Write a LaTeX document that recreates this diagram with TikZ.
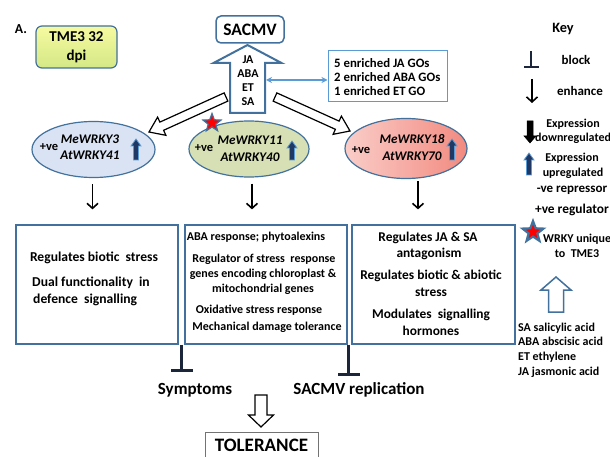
\documentclass[tikz,border=0pt]{standalone}
\usepackage{fontspec}
\setmainfont{Carlito}
\usetikzlibrary{arrows.meta,calc,shapes.geometric}
\definecolor{bord}{RGB}{65,113,156}
\definecolor{lblue}{RGB}{91,155,213}
\definecolor{navy}{RGB}{31,56,100}
\definecolor{blk}{RGB}{28,38,58}
\definecolor{eonefill}{RGB}{218,227,243}
\definecolor{etwofill}{RGB}{214,224,180}
\definecolor{ethreel}{RGB}{250,205,200}
\definecolor{ethreer}{RGB}{242,138,128}
\definecolor{tmetop}{RGB}{246,250,160}
\definecolor{tmebot}{RGB}{212,232,135}
\newcommand{\hollowarr}[6][]{%
  \coordinate (ha-s) at (#2);
  \coordinate (ha-e) at (#3);
  \coordinate (ha-b) at ($(ha-e)!#6!(ha-s)$);
  \draw[line join=miter,#1] ($(ha-s)!#4!90:(ha-e)$) -- ($(ha-b)!#4!90:(ha-e)$) --
    ($(ha-b)!#5!90:(ha-e)$) -- (ha-e) -- ($(ha-b)!#5!-90:(ha-e)$) --
    ($(ha-b)!#4!-90:(ha-e)$) -- ($(ha-s)!#4!-90:(ha-e)$) -- cycle;}
\newcommand{\fs}[1]{\bfseries\fontsize{#1}{#1}\selectfont}
\tikzset{
  gt/.style={font=\fs{13.6}, inner sep=0pt},
  gs/.style={font=\fs{12}, inner sep=0pt},
  gl/.style={font=\fs{13.4}, inner sep=0pt},
  it/.style={font=\bfseries\itshape\fontsize{13.2}{15}\selectfont, inner sep=0pt},
  keyt/.style={font=\fs{12}, inner sep=0pt},
  keyl/.style={font=\fs{13}, inner sep=0pt},
  wrky/.style={ellipse, draw=bord, line width=1.2pt, inner sep=0pt},
  funcbox/.style={draw=bord, line width=1.2pt, minimum height=119pt, inner sep=0pt},
  enh/.style={line width=1.6pt, -{Straight Barb[length=5pt,width=11pt]}},
  blockline/.style={draw=blk, line width=3.5pt, -{Bar[width=22pt]}},
  uparr/.style={fill=navy, draw=lblue, line width=0.8pt},
  redstar/.style={star, star points=5, star point ratio=2.4, fill=red, draw=bord, inner sep=0pt},
}
\begin{document}
\begin{tikzpicture}[x=1pt,y=-1pt]
\useasboundingbox (0,0) rectangle (610,457);
% title items
\node[font=\fs{13.7}, inner sep=0pt] (lab) at (21,29) {A.};
\node[draw=bord, line width=1.2pt, rounded corners=6pt, top color=tmetop, bottom color=tmebot,
  minimum width=81pt, minimum height=42pt, align=center, inner sep=0pt,
  font=\bfseries\fontsize{15}{19}\selectfont] (tme) at (76.5,47) {TME3 32\\dpi};
\node[draw=bord, line width=1.5pt, rounded corners=5pt, fill=white, minimum width=68pt,
  minimum height=27pt, inner sep=0pt, font=\fs{17.5}] (sacmv) at (250,29.5) {SACMV};
% central up arrow
\hollowarr[draw=bord, line width=2pt, fill=white]{247.5,113}{247.5,45}{17.5pt}{34pt}{18pt}
\node[gs] (ja) at (248,60) {JA};
\node[gs] (aba) at (248,74) {ABA};
\node[gs] (et) at (248,88) {ET};
\node[gs] (sa) at (248,102) {SA};
% GO box
\node[draw=lblue, line width=1pt, minimum width=119pt, minimum height=51pt, inner sep=0pt] (go) at (387.5,76.5) {};
\node[anchor=west, align=left, inner sep=0pt, font=\bfseries\fontsize{12.8}{14}\selectfont] (gotxt) at (334,77)
  {5 enriched JA GOs\\2 enriched ABA GOs\\1 enriched ET GO};
\coordinate (dl) at (266,80);
\draw[lblue, line width=1.2pt, {Stealth[length=6pt,width=6pt]}-{Stealth[length=6pt,width=6pt]}] (dl) -- (dl -| go.west);
% diagonal hollow arrows
\hollowarr[draw=black, line width=1.2pt, fill=white]{226,97}{149,132}{4.5pt}{10pt}{14pt}
\hollowarr[draw=black, line width=1.2pt, fill=white]{275,97}{350,131}{4.5pt}{10pt}{14pt}
% ellipses
\node[wrky, fill=eonefill, minimum width=123pt, minimum height=56pt] (e1) at (93.5,149.5) {};
\node[wrky, fill=etwofill, minimum width=120pt, minimum height=56pt] (e2) at (249,149) {};
\node[wrky, left color=ethreel, right color=ethreer, minimum width=122pt, minimum height=60pt] (e3) at (406,148.5) {};
\node[font=\fs{12.5}, inner sep=0pt] (pv1) at (49,147) {+ve};
\node[it] (me1) at (90,139) {MeWRKY3};
\node[it] (at1) at (90,155.5) {AtWRKY41};
\hollowarr[uparr]{136,160}{136,139}{2.5pt}{5pt}{7pt}
\node[font=\fs{12.5}, inner sep=0pt] (pv2) at (204,148) {+ve};
\node[it] (me2) at (250,140) {MeWRKY11};
\node[it] (at2) at (250,157) {AtWRKY40};
\hollowarr[uparr]{292,160}{292,141}{2.5pt}{5pt}{7pt}
\node[redstar, line width=1.2pt, minimum size=19pt] (st1) at (212,123) {};
\node[font=\fs{12.5}, inner sep=0pt] (pv3) at (361,150) {+ve};
\node[it] (me3) at (412,139) {MeWRKY18};
\node[it] (at3) at (412,156) {AtWRKY70};
\hollowarr[uparr]{452,160}{452,139}{2.5pt}{5pt}{7pt}
% function boxes
\node[funcbox, minimum width=162pt] (b1) at (97,284.5) {};
\node[funcbox, minimum width=162pt] (b2) at (266,284.5) {};
\node[funcbox, minimum width=163pt] (b3) at (433.5,284.5) {};
\draw[enh, shorten <=6pt, shorten >=15pt] ([xshift=-1pt]e1.south) -- ([xshift=-1pt]e1.south |- b1.north);
\draw[enh, shorten <=6pt, shorten >=15pt] ([xshift=3pt]e2.south) -- ([xshift=3pt]e2.south |- b2.north);
\draw[enh, shorten <=2pt, shorten >=15pt] ([xshift=12pt]e3.south) -- ([xshift=12pt]e3.south |- b3.north);
% box 1 text
\node[gt] (t11) at (94,258) {Regulates biotic\ \ stress};
\node[gt, anchor=west] (t12) at (32,283) {Dual functionality\ \ in};
\node[gt, anchor=west] (t13) at (33,300) {defence\ \ signalling};
% box 2 text
\node[gs] (t21) at (256,237) {ABA response; phytoalexins};
\node[gs] (t22) at (264,259) {Regulator of stress\ \ response};
\node[gs] (t23) at (263,274) {genes encoding chloroplast \&};
\node[gs] (t24) at (263,289) {mitochondrial genes};
\node[gs] (t25) at (259,310) {Oxidative stress response};
\node[gs] (t26) at (267,327) {Mechanical damage tolerance};
% box 3 text
\node[gl] (t31) at (428,238) {Regulates JA \& SA};
\node[gl] (t32) at (429,254) {antagonism};
\node[gl] (t33) at (431,276) {Regulates biotic \& abiotic};
\node[gl] (t34) at (431,292) {stress};
\node[gl] (t35) at (431,315) {Modulates\ \ signalling};
\node[gl] (t36) at (431,331) {hormones};
% block connectors
\coordinate (k1) at ($(b1.south east)!0.5!(b2.south west)$);
\coordinate (k1e) at (181,372);
\draw[blockline] (k1) -- (k1 |- k1e);
\coordinate (k2) at ($(b2.south east)!0.3!(b3.south west)$);
\coordinate (k2e) at (348,376);
\draw[blockline] (k2) -- (k2 |- k2e);
\node[font=\fs{17}, inner sep=0pt] (symp) at (195,390) {Symptoms};
\node[font=\fs{17}, inner sep=0pt] (repl) at (359,390) {SACMV replication};
\node[draw=black!55, line width=0.8pt, minimum width=113pt, minimum height=40pt, inner sep=0pt] (tol) at (261.5,452) {};
\node[font=\fs{19}, inner sep=0pt, anchor=base] (toltxt) at (261.5,451.5) {TOLERANCE};
\hollowarr[draw=black, line width=1.2pt, fill=white]{261,395}{261,427}{6pt}{12.5pt}{12pt}
% key
\node[font=\fs{14.3}, inner sep=0pt] (key) at (563,29) {Key};
\coordinate (kb) at (531,51);
\draw[draw=blk, line width=2pt, -{Bar[width=15pt]}] (kb) -- ++(0,17);
\node[keyl] (kblock) at (576,60) {block};
\coordinate (ke) at (532,79);
\draw[enh] (ke) -- ++(0,24);
\node[keyl] (kenh) at (580,91) {enhance};
\hollowarr[fill=black, draw=black, line width=0.5pt]{530,121}{530,143}{3pt}{6pt}{7pt}
\node[keyt] (kx1) at (573,124) {Expression};
\node[keyt, anchor=west] (kx2) at (535,138) {downregulated};
\hollowarr[uparr]{529,175}{529,153}{2.5pt}{5pt}{7pt}
\node[keyt] (kx3) at (572,158) {Expression};
\node[keyt] (kx4) at (573,173) {upregulated};
\node[keyl] (kx5) at (572,190) {-ve repressor};
\node[font=\fs{13.4}, inner sep=0pt] (kx6) at (572,210) {+ve regulator};
\node[redstar, line width=2.2pt, minimum size=22pt] (kst) at (533,232) {};
\node[keyt, anchor=west] (kx7) at (543,239) {WRKY unique};
\node[keyt] (kx8) at (577,254) {to\ \ TME3};
\hollowarr[draw=bord, line width=1.5pt, fill=white]{556,312}{556,277}{7.5pt}{15pt}{13pt}
\node[anchor=west, align=left, inner sep=0pt, font=\bfseries\fontsize{12}{14.7}\selectfont] (abbr) at (518,350)
  {SA salicylic acid\\ABA abscisic\ acid\\ET ethylene\\JA jasmonic acid};
\end{tikzpicture}
\end{document}
